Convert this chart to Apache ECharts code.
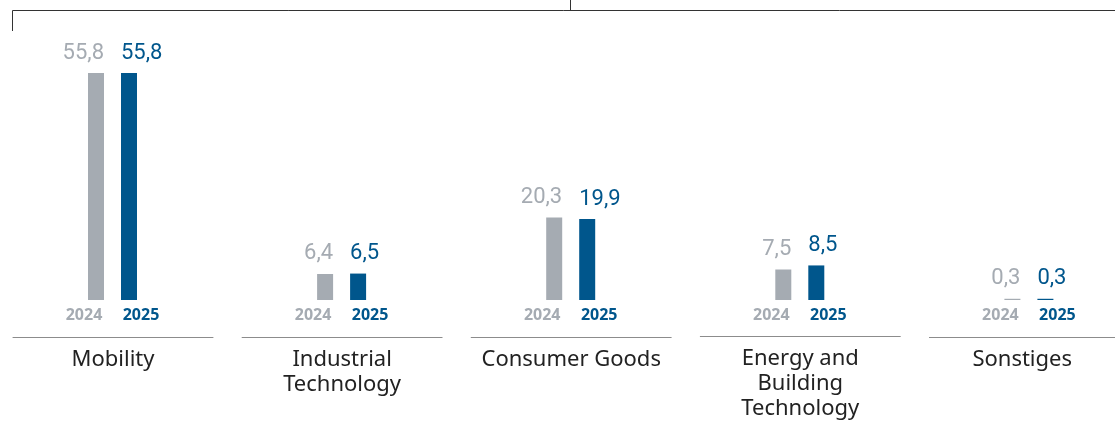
<!DOCTYPE html>
<html>
<head>
<meta charset="utf-8">
<script src="https://cdn.jsdelivr.net/npm/echarts@6/dist/echarts.min.js"></script>
<style>
html,body{margin:0;padding:0;background:#fff;}
#chart{width:1115px;height:421px;}
</style>
</head>
<body>
<div id="chart"></div>
<script>
const categories = ['Mobility', 'Industrial\nTechnology', 'Consumer Goods', 'Energy and\nBuilding\nTechnology', 'Sonstiges'];
const years = ['2024', '2025'];
const values2024 = [55.8, 6.4, 20.3, 7.5, 0.3];
const values2025 = [55.8, 6.5, 19.9, 8.5, 0.3];

const GREY = '#a5abb2';
const BLUE = '#00568c';
const FONT = '"Noto Sans", sans-serif';
const NUMFONT = 'Roboto, sans-serif';
const yearColors = [GREY, BLUE];

const pitch = 229.1;
const firstCenter = 112.5;
const BARW = 16;
const grids = [], xAxes = [], yAxes = [], series = [];

function fmt(v) { return v.toFixed(1).replace('.', ','); }

categories.forEach((cat, i) => {
  const c = firstCenter + pitch * i;
  // bar grid
  const gi = grids.length;
  grids.push({ left: c - 33, width: 66, top: 56, bottom: 121 });
  xAxes.push({
    type: 'category', gridIndex: gi, data: years,
    axisLine: { show: false }, axisTick: { show: false },
    axisLabel: {
      interval: 0, margin: 7,
      formatter: (val, idx) => idx === 0 ? '{a|' + val + '}' : '{b|' + val + '}',
      rich: {
        a: { fontFamily: FONT, fontSize: 16, fontWeight: 'bold', color: GREY, padding: [0, 24, 0, 0] },
        b: { fontFamily: FONT, fontSize: 16, fontWeight: 'bold', color: BLUE, padding: [0, 0, 0, 24] }
      }
    }
  });
  yAxes.push({ type: 'value', gridIndex: gi, min: 0, max: 60, show: false });
  series.push({
    type: 'bar', xAxisIndex: gi, yAxisIndex: gi, barWidth: BARW,
    data: [values2024[i], values2025[i]].map((v, k) => ({
      value: v,
      itemStyle: { color: yearColors[k] },
      label: k === 0
        ? { color: GREY, position: [BARW, -9], align: 'right', verticalAlign: 'bottom' }
        : { color: BLUE, position: [0, -9], align: 'left', verticalAlign: 'bottom' }
    })),
    label: {
      show: true,
      fontFamily: NUMFONT, fontSize: 22,
      formatter: p => fmt(p.value)
    },
    silent: true
  });
  // underline grid
  const ui = grids.length;
  grids.push({ left: 13 + pitch * i, width: 200, top: 300, bottom: 84 });
  xAxes.push({
    type: 'category', gridIndex: ui, data: [cat],
    axisLine: { show: true, lineStyle: { color: '#8c8c8c', width: 1 } },
    axisTick: { show: false },
    axisLabel: { interval: 0, margin: 10, fontFamily: FONT, fontSize: 22, lineHeight: 25, color: '#222' }
  });
  yAxes.push({ type: 'value', gridIndex: ui, min: 0, max: 1, show: false });
});

const chart = echarts.init(document.getElementById('chart'));
chart.setOption({
  animation: false,
  grid: grids, xAxis: xAxes, yAxis: yAxes, series: series,
  graphic: [
    { type: 'polyline', shape: { points: [[12.5, 31], [12.5, 10.5], [1115, 10.5]] }, style: { stroke: '#333', lineWidth: 1, fill: null } },
    { type: 'line', shape: { x1: 570.5, y1: 0, x2: 570.5, y2: 10.5 }, style: { stroke: '#333', lineWidth: 1 } }
  ]
});
</script>
</body>
</html>
